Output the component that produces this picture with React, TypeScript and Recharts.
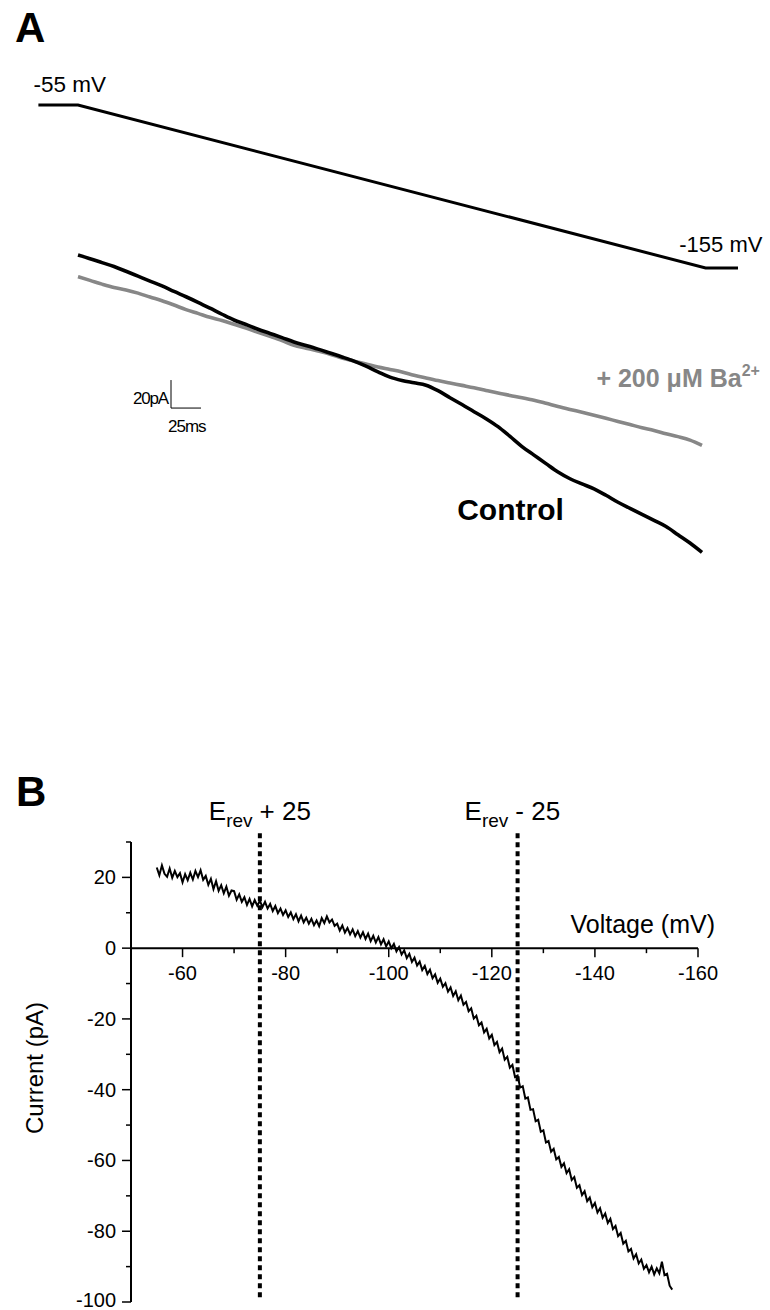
import React from 'react';
import { ComposedChart, LineChart, Line, XAxis, YAxis, ReferenceLine, ReferenceDot } from 'recharts';

const FONT = '"Liberation Sans", Arial, sans-serif';

// ---------- Panel A : ramp protocol and current traces ----------
const RAMP_TIME_MS = [-33, 0, 523, 552];
const RAMP_MV = [-55, -55, -155, -155];

const TRACE_TIME_MS = [
  0, 10, 20, 30, 40, 50, 60, 70, 80, 90,
  100, 110, 120, 130, 140, 150, 160, 170, 180, 190,
  200, 210, 220, 230, 240, 250, 260, 270, 280, 290,
  300, 310, 320, 330, 340, 350, 360, 370, 380, 390,
  400, 410, 420, 430, 440, 450, 460, 470, 480, 490,
  500, 510, 520,
];
const CONTROL_PA = [
  76.4, 73.8, 71.0, 68.2, 64.8, 61.3, 57.8, 54.4, 50.4, 46.6,
  42.6, 38.4, 34.1, 30.0, 26.8, 23.4, 20.4, 17.4, 14.3, 11.8,
  9.2, 6.4, 3.6, 0.6, -3.0, -7.0, -10.8, -13.2, -14.9, -16.6,
  -20.5, -25.5, -30.4, -35.5, -40.5, -46.2, -53.2, -60.4, -66.5, -72.6,
  -78.6, -83.4, -87.1, -90.6, -95.2, -100.2, -104.5, -108.8, -113.1, -117.5,
  -123.4, -129.3, -136.0,
];
const BARIUM_PA = [
  60.9, 58.3, 55.6, 53.2, 51.5, 49.2, 46.4, 43.8, 40.7, 37.4,
  34.7, 31.9, 29.6, 26.9, 24.2, 21.2, 18.3, 15.3, 12.0, 9.9,
  7.8, 5.6, 2.8, 0.6, -1.5, -3.6, -5.3, -7.1, -9.4, -11.4,
  -13.3, -15.0, -16.7, -18.4, -20.3, -22.2, -23.9, -25.5, -27.3, -29.5,
  -31.8, -33.9, -35.9, -38.0, -40.2, -42.5, -44.7, -46.9, -48.9, -51.2,
  -53.3, -55.8, -59.6,
];
const SCALE_BAR_PA = 20;
const SCALE_BAR_MS = 25;

// ---------- Panel B : I-V relation ----------
const IV_START_MV = -55;
const IV_STEP_MV = -0.5;
const IV_CURRENT_PA = [
  22.8, 20.6, 23.4, 21.0, 20.2, 22.5, 19.9, 21.8, 20.1, 21.2,
  18.6, 20.9, 19.2, 21.3, 19.4, 21.8, 20.1, 22.0, 19.3, 20.4,
  17.9, 19.6, 16.7, 18.9, 16.2, 17.8, 15.5, 17.4, 14.8, 16.3,
  16.1, 13.7, 15.2, 13.1, 14.4, 12.2, 13.9, 11.8, 13.6, 12.0,
  13.4, 11.6, 13.1, 11.2, 12.5, 10.5, 11.9, 9.9, 11.2, 9.4,
  10.7, 8.8, 10.1, 8.2, 9.6, 7.6, 9.2, 7.3, 8.6, 6.9,
  8.3, 6.5, 7.8, 6.2, 8.5, 7.1, 9.0, 7.3, 8.1, 6.3,
  6.9, 5.0, 6.4, 4.4, 5.7, 3.9, 5.3, 3.4, 4.8, 3.0,
  4.5, 2.6, 4.1, 2.0, 3.5, 1.6, 3.1, 1.1, 2.5, 0.5,
  1.9, 0.0, 1.2, -0.9, 0.3, -1.8, -0.6, -2.8, -1.6, -3.9,
  -2.7, -4.9, -3.8, -6.2, -5.0, -7.3, -6.1, -8.5, -7.4, -9.8,
  -8.6, -10.9, -9.9, -12.3, -11.1, -13.5, -12.2, -14.7, -13.4, -16.0,
  -15.2, -17.8, -17.0, -19.9, -19.1, -21.8, -21.0, -23.8, -22.8, -25.5,
  -24.5, -27.4, -26.5, -29.4, -28.4, -31.5, -30.7, -33.8, -33.0, -36.4,
  -36.0, -39.4, -39.0, -42.5, -42.2, -45.7, -45.5, -48.9, -48.5, -51.9,
  -51.5, -54.9, -54.5, -57.5, -56.7, -59.7, -59.0, -61.8, -60.8, -63.6,
  -62.5, -65.5, -64.7, -67.7, -67.0, -69.8, -68.7, -71.5, -70.5, -73.2,
  -72.0, -74.7, -73.5, -76.2, -75.0, -77.7, -76.5, -79.4, -78.5, -81.4,
  -80.5, -83.5, -82.7, -85.7, -85.0, -87.7, -86.5, -89.1, -88.0, -90.6,
  -89.6, -91.6, -90.0, -92.2, -90.5, -91.9, -88.6, -92.4, -92.0, -95.4,
  -96.5,
];
const X_MAJOR_TICKS = [-60, -80, -100, -120, -140, -160];
const X_MINOR_TICKS = [-70, -90, -110, -130, -150];
const Y_TICKS = [30, 20, 10, 0, -10, -20, -30, -40, -50, -60, -70, -80, -90, -100];
const EREV_MV = [-75, -125];
const EREV_TEXT = ['+ 25', '- 25'];
const DASH_TOP_PA = 32.5;
const DASH_BOTTOM_PA = -99;

// ---------- derived tables ----------
const rampData = RAMP_TIME_MS.map((t, i) => ({ t, v: RAMP_MV[i] }));
const controlData = TRACE_TIME_MS.map((t, i) => ({ t, i: CONTROL_PA[i] }));
const bariumData = TRACE_TIME_MS.map((t, i) => ({ t, i: BARIUM_PA[i] }));
const ivData = IV_CURRENT_PA.map((c, k) => ({ v: IV_START_MV + k * IV_STEP_MV, c }));

const GRAY = '#878787';

const YTick = (props: any) => {
  const { x, y, payload } = props;
  const v = payload.value;
  const major = v % 20 === 0;
  const nudge = v === -100 ? -2 : 0;
  return (
    <g>
      <line x1={x - (major ? 9 : 5)} x2={x} y1={y} y2={y} stroke="#000" strokeWidth={1.5} />
      {major && (
        <text x={x - 15} y={y + nudge} dy="0.35em" textAnchor="end" fontSize={20} fontFamily={FONT} fill="#000">
          {v}
        </text>
      )}
    </g>
  );
};

const ErevLabel = (text: string, dx: number) => (p: any) => (
  <text x={p.cx + dx} y={p.cy - 13} fontSize={26} fontFamily={FONT} fill="#000">
    <tspan>E</tspan>
    <tspan fontSize={19} dy={7}>rev</tspan>
    <tspan dy={-7} dx={7}>{text}</tspan>
  </text>
);

export default function App() {
  return (
    <div style={{ position: 'absolute', left: 0, top: 0, width: 770, height: 1310, background: '#fff', overflow: 'hidden' }}>
      <div style={{ position: 'absolute', left: 15, top: 4, fontFamily: FONT, fontWeight: 'bold', fontSize: 42, lineHeight: '48px' }}>A</div>
      <div style={{ position: 'absolute', left: 16, top: 768, fontFamily: FONT, fontWeight: 'bold', fontSize: 42, lineHeight: '48px' }}>B</div>

      <div style={{ position: 'absolute', left: 0, top: 0 }}>
        <ComposedChart width={770} height={620} margin={{ top: 60, right: 32, bottom: 20, left: 36 }}>
          <XAxis type="number" dataKey="t" domain={[-35, 550]} hide allowDataOverflow />
          <YAxis yAxisId="v" type="number" domain={[-358.7, -27.4]} hide allowDataOverflow />
          <YAxis yAxisId="i" type="number" domain={[-170, 215.7]} hide allowDataOverflow />
          <Line data={rampData} dataKey="v" yAxisId="v" stroke="#000" strokeWidth={3} dot={false} isAnimationActive={false} />
          <Line type="monotone" data={bariumData} dataKey="i" yAxisId="i" stroke={GRAY} strokeWidth={3.6} dot={false} isAnimationActive={false} />
          <Line type="monotone" data={controlData} dataKey="i" yAxisId="i" stroke="#000" strokeWidth={3.6} dot={false} isAnimationActive={false} />
          <ReferenceLine yAxisId="i" ifOverflow="visible" stroke="#000" strokeWidth={1}
            segment={[{ x: 77.5, y: -32.9 }, { x: 77.5, y: -32.9 + SCALE_BAR_PA }]} />
          <ReferenceLine yAxisId="i" ifOverflow="visible" stroke="#000" strokeWidth={1}
            segment={[{ x: 77.5, y: -32.9 }, { x: 77.5 + SCALE_BAR_MS, y: -32.9 }]} />
          <ReferenceDot yAxisId="i" x={77.5} y={-32.9 + SCALE_BAR_PA / 2} r={0} ifOverflow="visible"
            shape={(p: any) => (
              <text x={p.cx - 3} y={p.cy + 10} textAnchor="end" fontSize={17} letterSpacing={-1.2} fontFamily={FONT} fill="#000">{SCALE_BAR_PA}pA</text>
            )} />
          <ReferenceDot yAxisId="i" x={77.5} y={-32.9} r={0} ifOverflow="visible"
            shape={(p: any) => (
              <text x={p.cx - 3} y={p.cy + 24} fontSize={17} letterSpacing={-1} fontFamily={FONT} fill="#000">{SCALE_BAR_MS}ms</text>
            )} />
          <ReferenceDot yAxisId="v" x={RAMP_TIME_MS[0]} y={RAMP_MV[0]} r={0} ifOverflow="visible"
            shape={(p: any) => (
              <text x={p.cx - 5} y={p.cy - 13} fontSize={22.5} fontFamily={FONT} fill="#000">{RAMP_MV[0]} mV</text>
            )} />
          <ReferenceDot yAxisId="v" x={RAMP_TIME_MS[3]} y={RAMP_MV[3]} r={0} ifOverflow="visible"
            shape={(p: any) => (
              <text x={p.cx + 22} y={p.cy - 16} textAnchor="end" fontSize={22} fontFamily={FONT} fill="#000">{RAMP_MV[3]} mV</text>
            )} />
          <ReferenceDot yAxisId="i" x={316} y={-113} r={0} ifOverflow="visible"
            shape={(p: any) => (
              <text x={p.cx} y={p.cy} fontSize={30} fontWeight="bold" fontFamily={FONT} fill="#000">Control</text>
            )} />
          <ReferenceDot yAxisId="i" x={432} y={-18} r={0} ifOverflow="visible"
            shape={(p: any) => (
              <text x={p.cx} y={p.cy} fontSize={25} fontWeight="bold" fontFamily={FONT} fill={GRAY}>
                + 200 μM Ba<tspan fontSize={16} dy={-11}>2+</tspan>
              </text>
            )} />
        </ComposedChart>
      </div>

      <div style={{ position: 'absolute', left: 0, top: 780 }}>
        <LineChart width={770} height={530} data={ivData} margin={{ top: 62, right: 72, bottom: 8, left: 71 }}>
          <XAxis type="number" dataKey="v" domain={[-160, -50]} reversed hide allowDataOverflow />
          <YAxis type="number" domain={[-100, 30]} ticks={Y_TICKS} interval={0} width={60}
            tickSize={0} tickMargin={0} tickLine={false} tick={<YTick />}
            axisLine={{ stroke: '#000', strokeWidth: 2 }}
            label={{
              content: (p: any) => {
                const vb = p.viewBox;
                const cx = vb.x - 36;
                const cy = vb.y + vb.height / 2 - 4;
                return (
                  <text x={cx} y={cy} transform={`rotate(-90 ${cx} ${cy})`} textAnchor="middle" dy="0.35em" fontSize={24} fontFamily={FONT} fill="#000">
                    Current (pA)
                  </text>
                );
              },
            }} />
          <ReferenceLine y={0} stroke="#000" strokeWidth={2} />
          {X_MINOR_TICKS.map((v) => (
            <ReferenceDot key={'mn' + v} x={v} y={0} r={0} ifOverflow="visible"
              shape={(p: any) => <line x1={p.cx} x2={p.cx} y1={p.cy} y2={p.cy + 5} stroke="#000" strokeWidth={1.5} />} />
          ))}
          {X_MAJOR_TICKS.map((v) => (
            <ReferenceDot key={'mj' + v} x={v} y={0} r={0} ifOverflow="visible"
              shape={(p: any) => (
                <g>
                  <line x1={p.cx} x2={p.cx} y1={p.cy} y2={p.cy + 9} stroke="#000" strokeWidth={1.5} />
                  <text x={p.cx} y={p.cy + 32} textAnchor="middle" fontSize={20} fontFamily={FONT} fill="#000">{v}</text>
                </g>
              )} />
          ))}
          <ReferenceDot x={-160} y={0} r={0} ifOverflow="visible"
            shape={(p: any) => (
              <text x={p.cx + 17} y={p.cy - 15} textAnchor="end" fontSize={25} fontFamily={FONT} fill="#000">Voltage (mV)</text>
            )} />
          {EREV_MV.map((v) => (
            <ReferenceLine key={'er' + v} ifOverflow="visible" stroke="#000" strokeWidth={4} strokeDasharray="5 4"
              segment={[{ x: v, y: DASH_TOP_PA }, { x: v, y: DASH_BOTTOM_PA }]} />
          ))}
          {EREV_MV.map((v, k) => (
            <ReferenceDot key={'el' + v} x={v} y={DASH_TOP_PA} r={0} ifOverflow="visible"
              shape={ErevLabel(EREV_TEXT[k], k === 0 ? -51 : -53)} />
          ))}
          <Line dataKey="c" stroke="#000" strokeWidth={2} dot={false} isAnimationActive={false} />
        </LineChart>
      </div>
    </div>
  );
}
